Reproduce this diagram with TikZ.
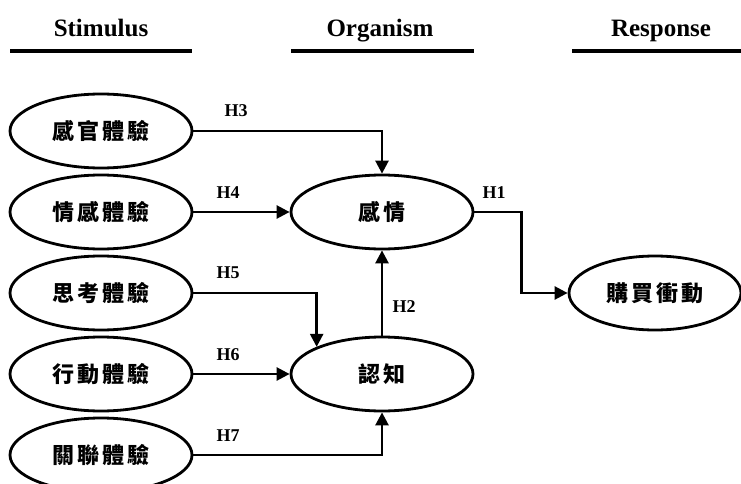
\documentclass[tikz,border=0pt]{standalone}
\usepackage{fontspec}
\setmainfont{Liberation Serif}
\newfontfamily\cjk[LetterSpace=14]{Noto Sans CJK TC}
\usetikzlibrary{shapes.geometric,arrows.meta,calc}
\tikzset{
  oval/.style={ellipse,draw,line width=2.8pt,minimum width=182pt,minimum height=74pt,inner sep=0pt,
    font=\cjk\bfseries\fontsize{22}{22}\selectfont},
  hdr/.style={font=\bfseries\fontsize{25}{25}\selectfont,anchor=base,inner sep=0pt},
  hlab/.style={font=\bfseries\fontsize{18}{18}\selectfont,inner sep=0pt},
  conn/.style={line width=2.6pt,-{Triangle[length=13pt,width=13pt]}},
  rule/.style={line width=3.2pt}
}
\begin{document}
\begin{tikzpicture}[x=1pt,y=-1pt]
\useasboundingbox (0,0) rectangle (741,484);
% headers
\node[hdr] (hs) at (101,37) {Stimulus};
\node[hdr] (ho) at (380,37) {Organism};
\node[hdr] (hr) at (661,37) {Response};
\draw[rule] (10,51) -- (192,51);
\draw[rule] (291,51) -- (474,51);
\draw[rule] (572,51) -- (741,51);
% nodes
\node[oval] (s1) at (101,131) {感官體驗};
\node[oval] (s2) at (101,212) {情感體驗};
\node[oval] (s3) at (101,293) {思考體驗};
\node[oval] (s4) at (101,374) {行動體驗};
\node[oval] (s5) at (101,455) {關聯體驗};
\node[oval] (emo) at (382,212) {感情};
\node[oval] (cog) at (382,374) {認知};
\node[oval,minimum width=172pt] (buy) at (655,293) {購買衝動};
% connectors
\draw[conn] (s1.east) -| (emo.north);
\draw[conn] (s2.east) -- (emo.west);
\draw[conn] (s3.east) -| (cog.north west);
\draw[conn] (s4.east) -- (cog.west);
\draw[conn] (s5.east) -| (cog.south);
\draw[conn] (cog.north) -- (emo.south);
\draw[conn] (emo.east) -- ++(47,0) |- (buy.west);
% labels
\node[hlab] (l3) at (236,111) {H3};
\node[hlab] (l4) at (228,193) {H4};
\node[hlab] (l5) at (228,273) {H5};
\node[hlab] (l6) at (228,355) {H6};
\node[hlab] (l7) at (228,436) {H7};
\node[hlab] (l2) at (404,307) {H2};
\node[hlab] (l1) at (494,193) {H1};
\end{tikzpicture}
\end{document}
